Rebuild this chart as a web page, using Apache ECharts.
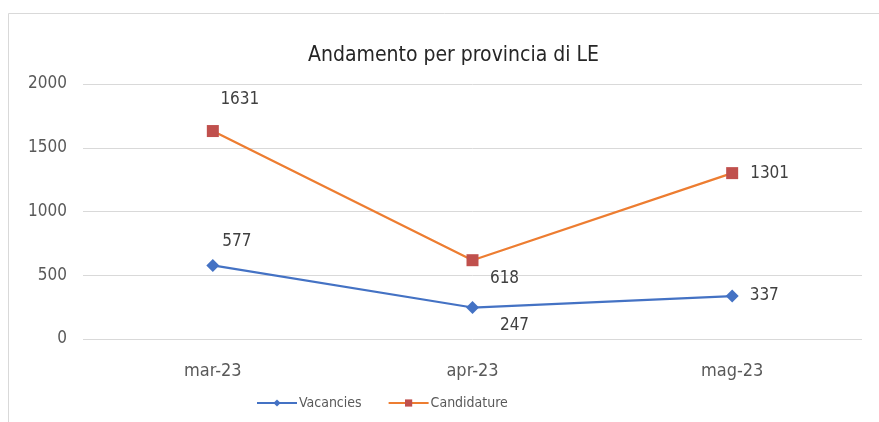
<!DOCTYPE html>
<html><head><meta charset="utf-8">
<script src="https://cdn.jsdelivr.net/npm/echarts@6/dist/echarts.min.js"></script>
<style>html,body{margin:0;padding:0;background:#fff}#c{width:879px;height:422px}</style>
</head><body><div id="c"></div>
<script>
const categories = ['mar-23', 'apr-23', 'mag-23'];
const vacancies = [577, 247, 337];
const candidature = [1631, 618, 1301];
const yTicks = [0, 500, 1000, 1500, 2000];

const FONT = '"Liberation Sans Narrow", "DejaVu Sans Condensed", "Liberation Sans", sans-serif';
const vacLabelPos = [
  {position: 'top', offset: [24, -4]},
  {position: 'bottom', offset: [42, -2]},
  {position: 'right', offset: [6, 0]}
];
const candLabelPos = [
  {position: 'top', offset: [27, -12]},
  {position: 'bottom', offset: [32, -1]},
  {position: 'right', offset: [7, 0]}
];

const chart = echarts.init(document.getElementById('c'));
chart.setOption({
  backgroundColor: '#fff',
  animation: false,
  graphic: [{
    type: 'rect', left: 6, top: 11,
    shape: {width: 900, height: 430},
    style: {fill: 'none', stroke: '#d9d9d9', lineWidth: 1}
  }],
  title: {
    text: 'Andamento per provincia di LE',
    left: 303, top: 40,
    textStyle: {fontFamily: FONT, fontSize: 21, fontWeight: 'normal', color: '#262626'}
  },
  legend: {
    top: 391, left: 251,
    itemWidth: 40, itemHeight: 9, itemGap: 26,
    textStyle: {fontFamily: FONT, fontSize: 14, color: '#595959', padding: [0, 0, 0, -3]},
    data: ['Vacancies', 'Candidature']
  },
  grid: {left: 83, right: 17, top: 84, bottom: 83},
  xAxis: {
    type: 'category', data: categories,
    axisLine: {show: false}, axisTick: {show: false},
    axisLabel: {fontFamily: FONT, fontSize: 18, color: '#595959', margin: 23}
  },
  yAxis: {
    type: 'value', min: yTicks[0], max: yTicks[yTicks.length - 1], interval: 500,
    axisLine: {show: false}, axisTick: {show: false},
    splitLine: {lineStyle: {color: '#d9d9d9'}},
    axisLabel: {fontFamily: FONT, fontSize: 17, color: '#595959', margin: 16,
      formatter: v => String(v)}
  },
  series: [{
    name: 'Vacancies', type: 'line',
    data: vacancies.map((v, i) => ({value: v, label: vacLabelPos[i]})),
    symbol: 'diamond', symbolSize: 13,
    lineStyle: {color: '#4472C4', width: 2.25},
    itemStyle: {color: '#4472C4'},
    label: {show: true, fontFamily: FONT, fontSize: 17, color: '#404040'}
  }, {
    name: 'Candidature', type: 'line',
    data: candidature.map((v, i) => ({value: v, label: candLabelPos[i]})),
    symbol: 'rect', symbolSize: 12,
    lineStyle: {color: '#ED7D31', width: 2.25},
    itemStyle: {color: '#C0504D'},
    label: {show: true, fontFamily: FONT, fontSize: 17, color: '#404040'}
  }]
});
</script></body></html>
